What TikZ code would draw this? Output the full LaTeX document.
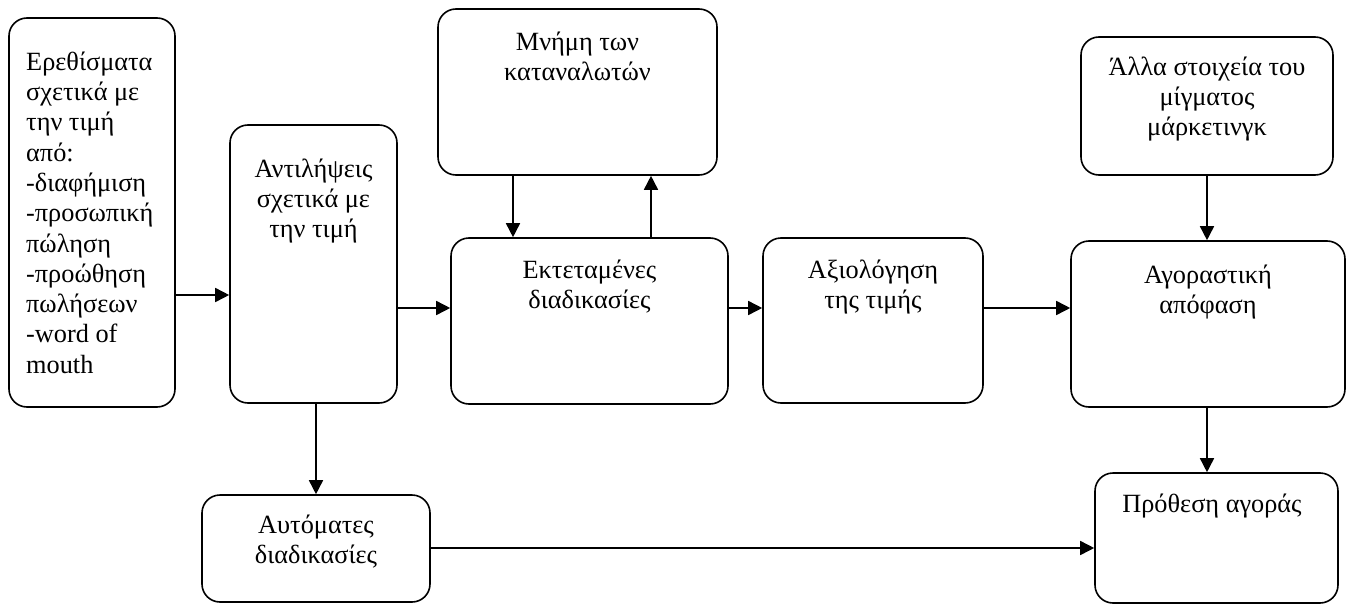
\documentclass[tikz,border=0pt]{standalone}
\usepackage{fontspec}
\setmainfont{Liberation Serif}
\usetikzlibrary{arrows.meta}
\begin{document}
\begin{tikzpicture}[x=1pt,y=-1pt,
  box/.style={draw, line width=1.6pt, rounded corners=18pt, inner sep=0pt, fill=white},
  lbl/.style={inner sep=0pt, align=center, anchor=north, font=\fontsize{26.3}{30.3}\selectfont},
  lbll/.style={inner sep=0pt, align=left, anchor=north west, font=\fontsize{26.3}{30.3}\selectfont},
  arr/.style={line width=1.6pt, -{Triangle[length=14pt,width=14pt]}}]
\useasboundingbox (0,0) rectangle (1353,605);
% boxes
\node[box, minimum width=166pt, minimum height=389pt] (A) at (92,212.5) {};
\node[box, minimum width=167pt, minimum height=278pt] (B) at (313.5,264) {};
\node[box, minimum width=279pt, minimum height=166pt] (C) at (577.5,92) {};
\node[box, minimum width=277pt, minimum height=166pt] (D) at (589.5,321) {};
\node[box, minimum width=220pt, minimum height=165pt] (E) at (873,320.5) {};
\node[box, minimum width=252pt, minimum height=138pt] (F) at (1207,106) {};
\node[box, minimum width=274pt, minimum height=166pt] (G) at (1208,324) {};
\node[box, minimum width=228pt, minimum height=107pt] (H) at (316,548.5) {};
\node[box, minimum width=243pt, minimum height=130pt] (I) at (1216.5,538) {};
% texts
\node[lbll] (At) at (26,49) {\rule{0pt}{21pt}Ερεθίσματα\\σχετικά με\\την τιμή\\από:\\-διαφήμιση\\-προσωπική\\πώληση\\-προώθηση\\πωλήσεων\\-word of\\mouth};
\node[lbl] (Bt) at (313.5,156) {\rule{0pt}{21pt}Αντιλήψεις\\σχετικά με\\την τιμή};
\node[lbl] (Ct) at (577.5,29) {\rule{0pt}{21pt}Μνήμη των\\καταναλωτών};
\node[lbl] (Dt) at (589.5,257) {\rule{0pt}{21pt}Εκτεταμένες\\διαδικασίες};
\node[lbl] (Et) at (873,257) {\rule{0pt}{21pt}Αξιολόγηση\\της τιμής};
\node[lbl] (Ft) at (1207,54) {\rule{0pt}{21pt}Άλλα στοιχεία του\\μίγματος\\μάρκετινγκ};
\node[lbl] (Gt) at (1208,262) {\rule{0pt}{21pt}Αγοραστική\\απόφαση};
\node[lbl] (Ht) at (316,512) {\rule{0pt}{21pt}Αυτόματες\\διαδικασίες};
\node[lbl] (It) at (1212,491) {\rule{0pt}{21pt}Πρόθεση αγοράς};
% connectors
\draw[arr] (A.east |- 0,295) -- (B.west |- 0,295);
\draw[arr] (B.east |- 0,308) -- (D.west |- 0,308);
\draw[arr] (C.south -| 513,0) -- (D.north -| 513,0);
\draw[arr] (D.north -| 651,0) -- (C.south -| 651,0);
\draw[arr] (D.east |- 0,308) -- (E.west |- 0,308);
\draw[arr] (E.east |- 0,308) -- (G.west |- 0,308);
\draw[arr] (F.south -| 1207,0) -- (G.north -| 1207,0);
\draw[arr] (G.south -| 1207,0) -- (I.north -| 1207,0);
\draw[arr] (B.south -| 316,0) -- (H.north -| 316,0);
\draw[arr] (H.east |- 0,548) -- (I.west |- 0,548);
\end{tikzpicture}
\end{document}
